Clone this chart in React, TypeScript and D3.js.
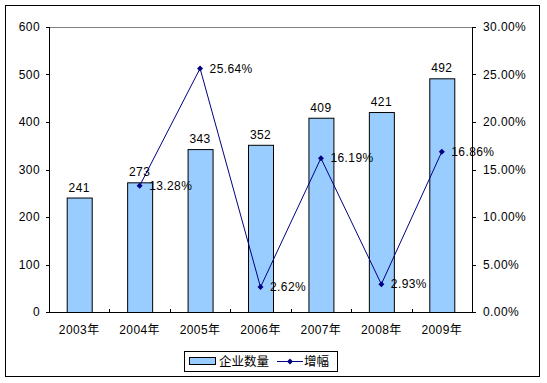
import React from "react";
import * as d3 from "d3";

const categories = ["2003年", "2004年", "2005年", "2006年", "2007年", "2008年", "2009年"];
const companyCounts = [241, 273, 343, 352, 409, 421, 492];
const growthRates: (number | null)[] = [null, 0.1328, 0.2564, 0.0262, 0.1619, 0.0293, 0.1686];
const leftTicks = [0, 100, 200, 300, 400, 500, 600];
const rightTicks = [0, 0.05, 0.1, 0.15, 0.2, 0.25, 0.3];
const seriesNames = ["企业数量", "增幅"];

const W = 547, H = 383;
const plot = { left: 49, right: 472, top: 27, bottom: 312 };
const font = "Arial, 'Liberation Sans', sans-serif";
const cjk = "'Noto Sans CJK SC', sans-serif";
const ls = 0.4;

export default function App() {
  const yL = d3.scaleLinear().domain([0, 600]).range([plot.bottom, plot.top]);
  const yR = d3.scaleLinear().domain([0, 0.3]).range([plot.bottom, plot.top]);
  const x = d3.scaleBand<string>().domain(categories).range([plot.left, plot.right]);
  const step = x.step();
  const cx = (c: string) => (x(c) as number) + step / 2;
  const bw = 25;

  const pts = categories
    .map((c, i) => ({ c, v: growthRates[i] }))
    .filter((d) => d.v != null) as { c: string; v: number }[];
  const line = d3.line<{ c: string; v: number }>().x((d) => cx(d.c)).y((d) => yR(d.v));
  const diamond = (px: number, py: number, r = 3) =>
    `M${px},${py - r}L${px + r},${py}L${px},${py + r}L${px - r},${py}Z`;

  return (
    <svg width={W} height={H} style={{ position: "absolute", left: 0, top: 0 }}>
      <rect x={0} y={0} width={W} height={H} fill="#fff" />
      <rect x={5.5} y={5.5} width={534} height={371} fill="#fff" stroke="#000" strokeWidth={1} />
      <line x1={plot.left} x2={plot.right} y1={plot.top + 0.5} y2={plot.top + 0.5} stroke="#808080" />
      {categories.map((c, i) => (
        <g key={c}>
          <rect x={cx(c) - bw / 2 + 0.5} y={yL(companyCounts[i]) + 0.5} width={bw} height={plot.bottom - yL(companyCounts[i])}
            fill="#99CCFF" stroke="#000" strokeWidth={1} />
          <text x={cx(c)} y={yL(companyCounts[i]) - 6} textAnchor="middle" fontFamily={font} fontSize={12} letterSpacing={ls} fill="#000">
            {companyCounts[i]}
          </text>
        </g>
      ))}
      <line x1={plot.left + 0.5} x2={plot.left + 0.5} y1={plot.top} y2={plot.bottom + 1} stroke="#000" />
      <line x1={plot.right + 0.5} x2={plot.right + 0.5} y1={plot.top} y2={plot.bottom + 1} stroke="#000" />
      <line x1={plot.left} x2={plot.right + 1} y1={plot.bottom + 0.5} y2={plot.bottom + 0.5} stroke="#000" />
      {leftTicks.map((t) => (
        <g key={"l" + t}>
          <line x1={plot.left - 3} x2={plot.left} y1={Math.round(yL(t)) + 0.5} y2={Math.round(yL(t)) + 0.5} stroke="#000" />
          <text x={40} y={yL(t)} dy="0.35em" textAnchor="end" fontFamily={font} fontSize={12} letterSpacing={ls} fill="#000">{t}</text>
        </g>
      ))}
      {rightTicks.map((t) => (
        <g key={"r" + t}>
          <line x1={plot.right} x2={plot.right + 4} y1={Math.round(yR(t)) + 0.5} y2={Math.round(yR(t)) + 0.5} stroke="#000" />
          <text x={483} y={yR(t)} dy="0.35em" textAnchor="start" fontFamily={font} fontSize={12} letterSpacing={ls} fill="#000">{(t * 100).toFixed(2)}%</text>
        </g>
      ))}
      {categories.map((c, i) => (
        <g key={"x" + c}>
          {i > 0 && (
            <line x1={Math.round(x(c) as number) + 0.5} x2={Math.round(x(c) as number) + 0.5} y1={plot.bottom - 3} y2={plot.bottom} stroke="#000" />
          )}
          <text x={cx(c)} y={330} dy="0.35em" textAnchor="middle" fontFamily={font} fontSize={12} letterSpacing={ls} fill="#000">
            {c.replace("年", "")}
            <tspan fontFamily={cjk}>年</tspan>
          </text>
        </g>
      ))}
      <path d={line(pts) || ""} fill="none" stroke="#000080" strokeWidth={1} />
      {pts.map((d) => (
        <g key={"p" + d.c}>
          <path d={diamond(cx(d.c), yR(d.v))} fill="#000080" />
          <text x={cx(d.c) + 9.5} y={yR(d.v)} dy="0.35em" fontFamily={font} fontSize={12} letterSpacing={ls} fill="#000">
            {(d.v * 100).toFixed(2)}%
          </text>
        </g>
      ))}
      <rect x={184.5} y={351.5} width={153} height={20} fill="#fff" stroke="#000" />
      <rect x={189.5} y={357.5} width={26} height={7} fill="#99CCFF" stroke="#000" />
      <text x={219} y={362} dy="0.35em" fontFamily={cjk} fontSize={12.5} fill="#000">{seriesNames[0]}</text>
      <line x1={277} x2={303} y1={361.5} y2={361.5} stroke="#000080" />
      <path d={diamond(290, 361.5)} fill="#000080" />
      <text x={304} y={362} dy="0.35em" fontFamily={cjk} fontSize={12.5} fill="#000">{seriesNames[1]}</text>
    </svg>
  );
}
